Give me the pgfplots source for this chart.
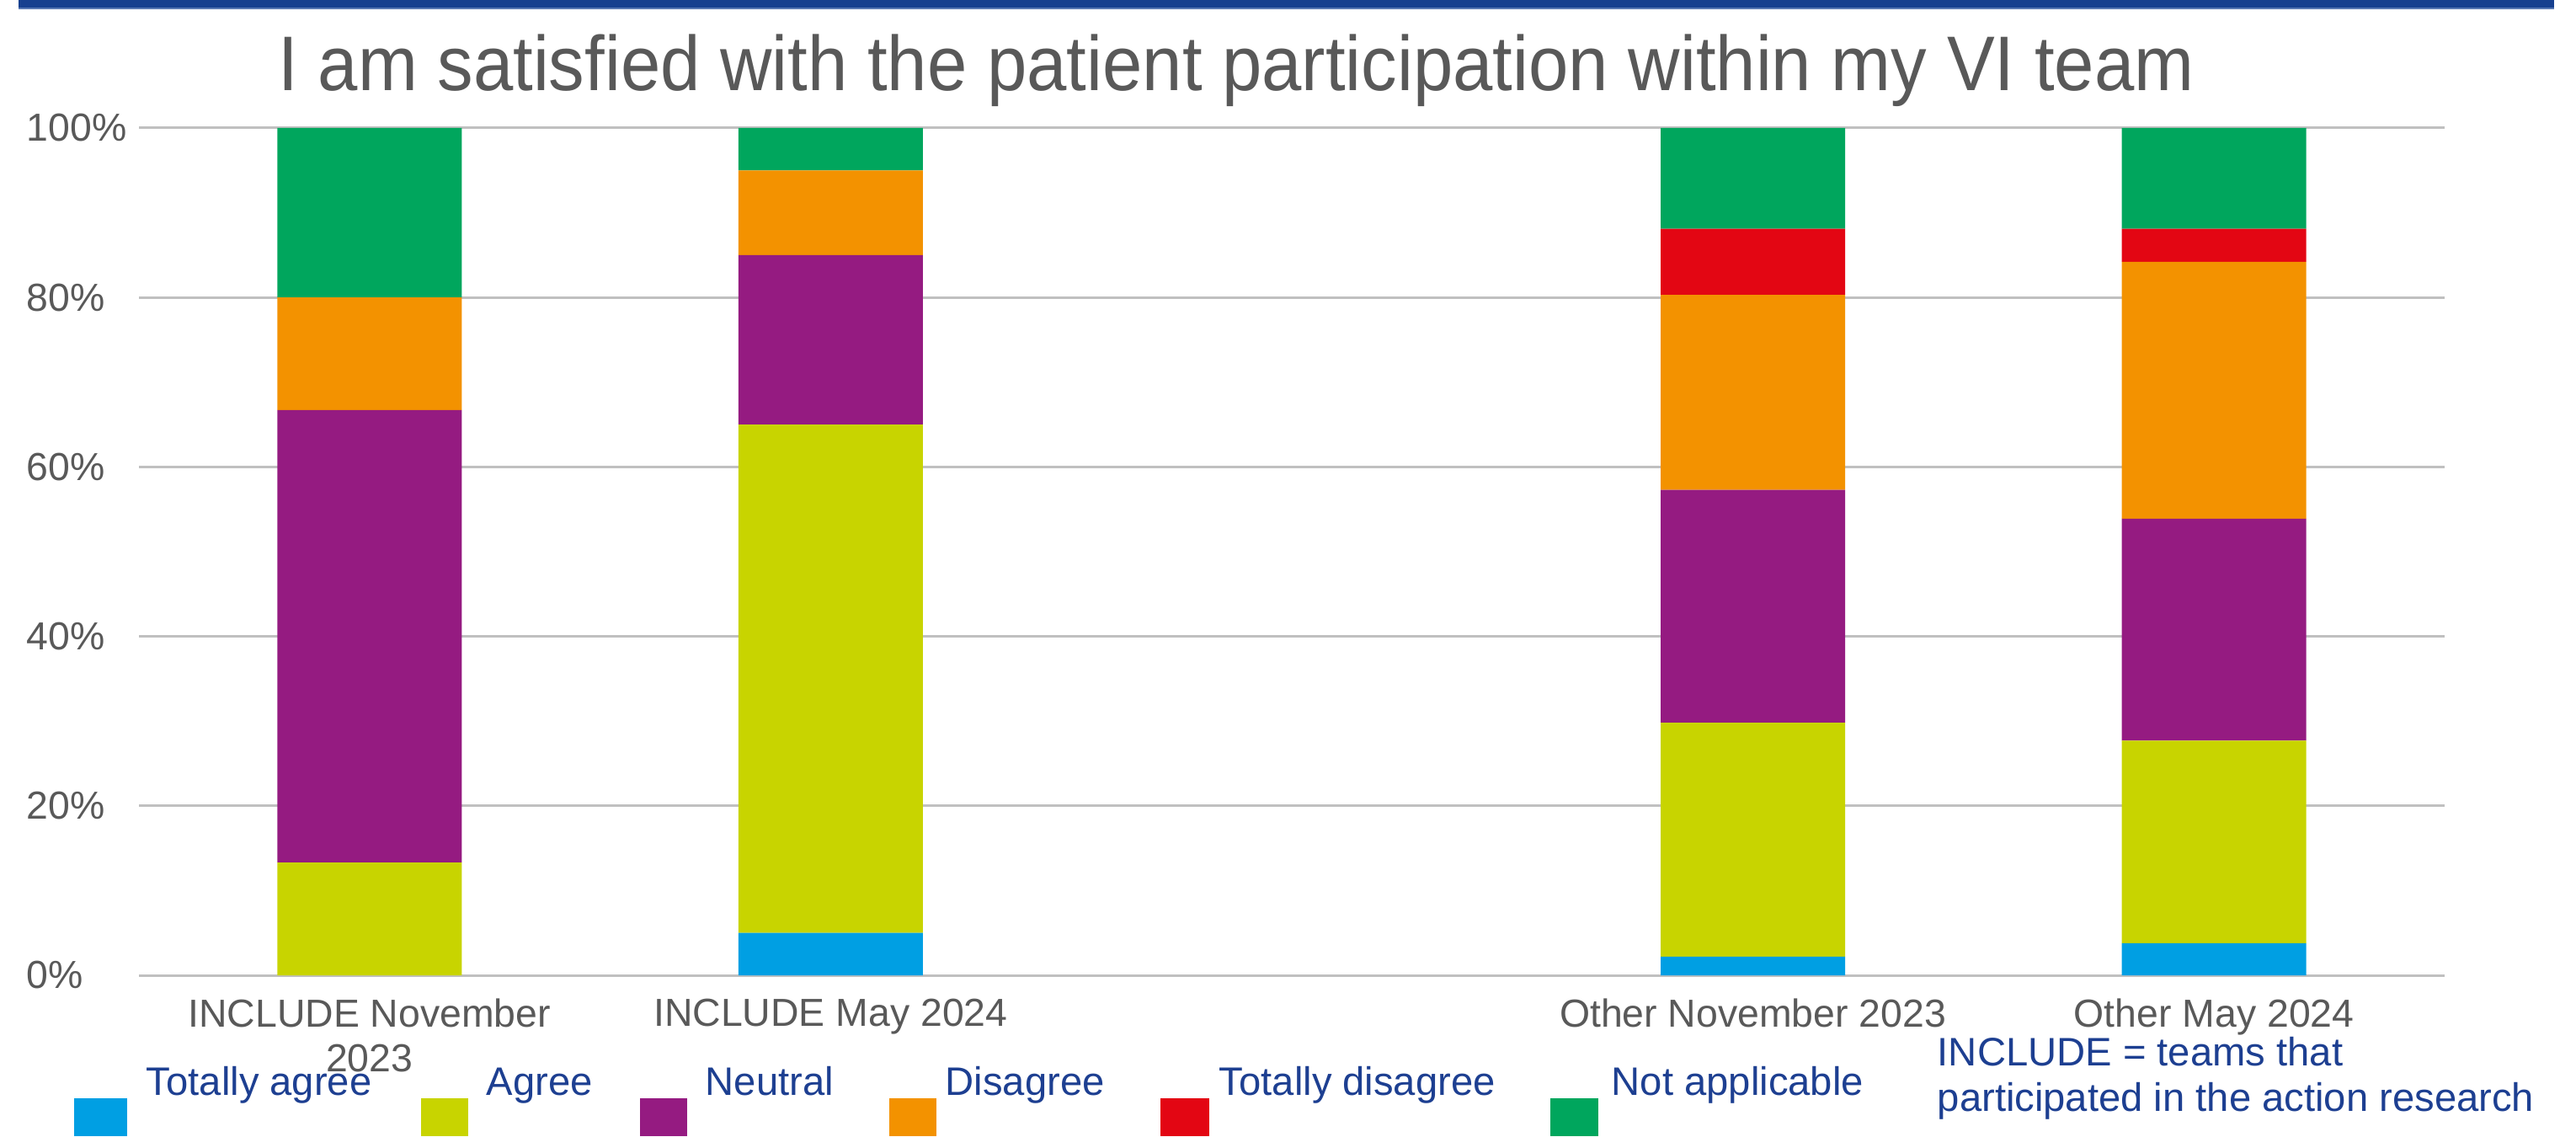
\documentclass[border=0pt]{standalone}
\usepackage{pgfplots}
\pgfplotsset{compat=1.18}
\usepackage{graphicx}
\usepackage{fontspec}
\setmainfont{Liberation Sans}
\definecolor{cTA}{HTML}{009FE3}
\definecolor{cA}{HTML}{C8D400}
\definecolor{cN}{HTML}{951B81}
\definecolor{cD}{HTML}{F39200}
\definecolor{cTD}{HTML}{E30613}
\definecolor{cNA}{HTML}{00A65D}
\definecolor{legblue}{HTML}{1D3F91}
\definecolor{band}{HTML}{17408F}
\definecolor{bandlight}{HTML}{5A7AB5}
\definecolor{txtgray}{HTML}{595959}
\definecolor{gridgray}{HTML}{C0C0C0}
\begin{document}
\begin{tikzpicture}
\begin{axis}[
  at={(41.25pt,47.75pt)}, anchor=south west,
  scale only axis, width=684.5pt, height=251.5pt,
  ybar stacked, bar width=54.75pt,
  xmin=-0.5, xmax=4.5, ymin=0, ymax=100,
  xtick={0,1,3,4},
  xticklabels={{INCLUDE November\\2023},{INCLUDE May 2024},{Other November 2023},{Other May 2024}},
  ytick={0,20,40,60,80,100},
  yticklabels={0\%,20\%,40\%,60\%,80\%,100\%},
  axis line style={draw=none},
  major tick length=0pt,
  ymajorgrids, grid style={gridgray, line width=0.75pt},
  xticklabel style={align=center, anchor=north, inner sep=0pt, yshift=-6.75pt, font=\fontsize{11.6}{13.25}\selectfont, text=txtgray},
  yticklabel style={anchor=west, inner sep=0pt, xshift=-33.5pt, font=\fontsize{11.6}{13.25}\selectfont, text=txtgray},
  clip=false,
]
\addplot[fill=cTA, draw=none] coordinates {(0,0) (1,5) (3,2.2) (4,3.8)};
\addplot[fill=cA, draw=none] coordinates {(0,13.3) (1,60) (3,27.6) (4,23.9)};
\addplot[fill=cN, draw=none] coordinates {(0,53.4) (1,20) (3,27.5) (4,26.2)};
\addplot[fill=cD, draw=none] coordinates {(0,13.3) (1,10) (3,23.0) (4,30.3)};
\addplot[fill=cTD, draw=none] coordinates {(0,0) (1,0) (3,7.8) (4,3.9)};
\addplot[fill=cNA, draw=none] coordinates {(0,20) (1,5) (3,11.9) (4,11.9)};
\end{axis}
% top band
\fill[band] (5.5pt,337.25pt) rectangle (758.25pt,334.875pt);
\fill[bandlight] (5.5pt,334.875pt) rectangle (758.25pt,334.5pt);
% title
\node[anchor=base, inner sep=0pt, text=txtgray] at (367pt,310.25pt) {\scalebox{0.925}[1]{\fontsize{23}{27}\selectfont I am satisfied with the patient participation within my VI team}};
% legend
\fill[cTA] (22pt,0pt) rectangle (37.75pt,11.25pt);
\fill[cA] (125pt,0pt) rectangle (139pt,11.25pt);
\fill[cN] (190pt,0pt) rectangle (204pt,11.25pt);
\fill[cD] (264pt,0pt) rectangle (278pt,11.25pt);
\fill[cTD] (344.5pt,0pt) rectangle (359pt,11.25pt);
\fill[cNA] (460.25pt,0pt) rectangle (474.5pt,11.25pt);
\begin{scope}[every node/.style={anchor=base west, inner sep=0pt, text=legblue, font=\fontsize{11.8}{14}\selectfont}]
\node at (43.25pt,12.25pt) {Totally agree};
\node at (144.25pt,12.25pt) {Agree};
\node at (209.25pt,12.25pt) {Neutral};
\node at (280.5pt,12.25pt) {Disagree};
\node at (361.75pt,12.25pt) {Totally disagree};
\node at (478.25pt,12.25pt) {Not applicable};
\node at (575pt,21pt) {INCLUDE = teams that};
\node at (575pt,7.5pt) {participated in the action research};
\end{scope}
\pgfresetboundingbox
\path[use as bounding box] (0,0) rectangle (764.75pt,337.25pt);
\end{tikzpicture}
\end{document}
